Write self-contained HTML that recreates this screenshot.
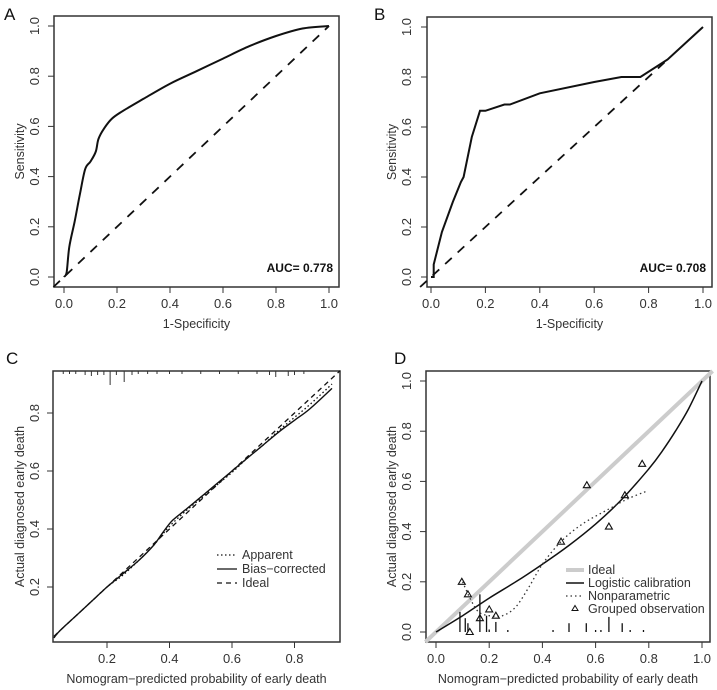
<!DOCTYPE html>
<html><head><meta charset="utf-8"><style>
body{margin:0;background:#fff}
svg{display:block;font-family:"Liberation Sans",Arial,sans-serif}
</style></head><body>
<svg id="s" width="717" height="690" xmlns="http://www.w3.org/2000/svg"></svg>
<script>
// Panel A ROC
const rocAx=[0,0.01,0.02,0.04,0.06,0.08,0.1,0.12,0.13,0.15,0.18,0.22,0.3,0.4,0.5,0.6,0.7,0.8,0.9,1];
const rocAy=[0,0.02,0.12,0.22,0.33,0.43,0.46,0.5,0.55,0.59,0.63,0.66,0.71,0.77,0.82,0.87,0.92,0.96,0.99,1];
// Panel B ROC
const rocBx=[0,0.01,0.01,0.04,0.08,0.11,0.12,0.15,0.18,0.2,0.27,0.29,0.4,0.6,0.7,0.77,0.87,1];
const rocBy=[0,0,0.05,0.18,0.3,0.38,0.4,0.56,0.665,0.665,0.69,0.69,0.735,0.78,0.8,0.8,0.87,1];
const aucLabels=["AUC= 0.778","AUC= 0.708"];
// Panel C calibration
const calX=[0.03,0.05,0.1,0.15,0.2,0.25,0.3,0.35,0.38,0.41,0.45,0.5,0.55,0.6,0.65,0.7,0.75,0.8,0.85,0.92];
const calBias=[0.025,0.05,0.1,0.15,0.2,0.245,0.29,0.345,0.39,0.43,0.465,0.51,0.555,0.6,0.645,0.69,0.735,0.775,0.815,0.885];
const calApp=[0.025,0.05,0.1,0.15,0.2,0.24,0.29,0.345,0.385,0.42,0.46,0.505,0.55,0.595,0.645,0.69,0.74,0.785,0.83,0.9];
const rugTopX=[0.06,0.08,0.1,0.13,0.15,0.17,0.19,0.21,0.23,0.255,0.28,0.3,0.33,0.36,0.4,0.44,0.5,0.56,0.62,0.68,0.72,0.74,0.78,0.8,0.83];
const rugTopLen=[3,3,3,4,5,4,4,14,4,11,4,3,3,3,3,3,3,3,3,3,4,6,5,4,3];
// Panel D
const logX=[0,0.1,0.2,0.3,0.4,0.5,0.6,0.7,0.8,0.85,0.9,0.95,1];
const logY=[0,0.065,0.135,0.2,0.27,0.345,0.43,0.53,0.65,0.72,0.8,0.89,1];
const npX=[0.1,0.13,0.16,0.2,0.25,0.3,0.35,0.4,0.47,0.55,0.65,0.72,0.79];
const npY=[0.2,0.13,0.08,0.065,0.065,0.1,0.18,0.27,0.36,0.43,0.49,0.53,0.56];
const grpX=[0.097,0.12,0.127,0.165,0.2,0.225,0.47,0.567,0.65,0.71,0.775];
const grpY=[0.2,0.15,0.0,0.055,0.09,0.065,0.36,0.585,0.42,0.545,0.67];
const spikeX=[0.09,0.11,0.12,0.165,0.19,0.2,0.225,0.27,0.44,0.5,0.565,0.6,0.62,0.65,0.7,0.73,0.78];
const spikeH=[0.08,0.055,0.035,0.15,0.065,0.01,0.04,0.008,0.008,0.035,0.035,0.008,0.008,0.06,0.035,0.008,0.008];
const ticks5=[0,0.2,0.4,0.6,0.8,1];
const ticksC=[0.2,0.4,0.6,0.8];

const NS="http://www.w3.org/2000/svg",S=document.getElementById('s');
function el(t,a,p){const e=document.createElementNS(NS,t);for(const k in a)e.setAttribute(k,a[k]);(p||S).appendChild(e);return e;}
function txt(x,y,s,a,p){const e=el('text',Object.assign({x:x,y:y,fill:'#333','font-size':13},a),p);e.textContent=s;return e;}
function panel(name,box,sx,sy,xt,yt,xlab,ylab,letter,lx){
  const g=el('g',{});
  
  
  const r=el('rect',{x:box[0],y:box[1],width:box[2]-box[0],height:box[3]-box[1],fill:'none',stroke:'#333','stroke-width':1.5},g);
  
  xt.forEach(v=>{const x=sx(v);el('line',{x1:x,x2:x,y1:box[3],y2:box[3]+6,stroke:'#333'},g);
    const t=txt(x,box[3]+21,v.toFixed(1),{'text-anchor':'middle'},g);
    });
  yt.forEach(v=>{const y=sy(v);el('line',{x1:box[0]-6,x2:box[0],y1:y,y2:y,stroke:'#333'},g);
    const t=txt(lx+5,y,v.toFixed(1),{'text-anchor':'middle',transform:`rotate(-90 ${lx+5} ${y})`},g);
    });
  const xl=txt((box[0]+box[2])/2,box[3]+41,xlab,{'text-anchor':'middle','font-size':12.5},g);
  
  const yc=(box[1]+box[3])/2,yx=lx-10;
  const yl=txt(yx,yc,ylab,{'text-anchor':'middle','font-size':12.5,transform:`rotate(-90 ${yx} ${yc})`},g);
  
  const L=txt(letter[1],letter[2],letter[0],{'font-size':17,fill:'#111'},g);
  
  return g;
}
function path(xs,ys,sx,sy,a,g,name,smooth){
  const P=xs.map((x,i)=>[sx(x),sy(ys[i])]);let d='M'+P[0][0].toFixed(1)+' '+P[0][1].toFixed(1);
  for(let i=1;i<P.length;i++){
    if(!smooth){d+='L'+P[i][0].toFixed(1)+' '+P[i][1].toFixed(1);continue;}
    const p0=P[Math.max(i-2,0)],p1=P[i-1],p2=P[i],p3=P[Math.min(i+1,P.length-1)];
    const c1=[p1[0]+(p2[0]-p0[0])/6,p1[1]+(p2[1]-p0[1])/6],c2=[p2[0]-(p3[0]-p1[0])/6,p2[1]-(p3[1]-p1[1])/6];
    d+=`C${c1[0].toFixed(1)} ${c1[1].toFixed(1)} ${c2[0].toFixed(1)} ${c2[1].toFixed(1)} ${p2[0].toFixed(1)} ${p2[1].toFixed(1)}`;}
  const p=el('path',Object.assign({d:d,fill:'none'},a),g);return p;}
function lin(d0,d1,r0,r1){return v=>r0+(v-d0)/(d1-d0)*(r1-r0);}

// A
{const sx=lin(0,1,64,329),sy=lin(0,1,277,26);
 const g=panel('roc-panel-a',[54,16,339,287],sx,sy,ticks5,ticks5,'1-Specificity','Sensitivity',['A',4,20],34);
 path([-0.04,1.0],[-0.04,1.0],sx,sy,{stroke:'#111','stroke-width':1.8,'stroke-dasharray':'9,8'},g,'reference-diagonal');
 path(rocAx,rocAy,sx,sy,{stroke:'#111','stroke-width':2},g,'roc-curve-a',true);
 const t=txt(333,272,aucLabels[0],{'text-anchor':'end','font-weight':'bold','font-size':12,fill:'#111'},g);
 }
// B
{const sx=lin(0,1,431,703),sy=lin(0,1,277,27);
 const g=panel('roc-panel-b',[427,17,712,287],sx,sy,ticks5,ticks5,'1-Specificity','Sensitivity',['B',374,20],406);
 path([-0.04,0.86],[-0.04,0.86],sx,sy,{stroke:'#111','stroke-width':1.8,'stroke-dasharray':'9,8'},g,'reference-diagonal');
 path(rocBx,rocBy,sx,sy,{stroke:'#111','stroke-width':2},g,'roc-curve-b');
 const t=txt(706,272,aucLabels[1],{'text-anchor':'end','font-weight':'bold','font-size':12,fill:'#111'},g);
 }
// C
{const sx=lin(0,1,44.5,357),sy=lin(0,1,645,355);
 const g=panel('calibration-panel-c',[53,371,340,642],sx,sy,ticksC,ticksC,'Nomogram\u2212predicted probability of early death','Actual diagnosed early death',['C',6,364],34);
 rugTopX.forEach((v,i)=>{const x=sx(v);const l=el('line',{x1:x,x2:x,y1:371,y2:371+rugTopLen[i],stroke:'#333'},g);
   });
 path([0.03,0.946],[0.03,0.946],sx,sy,{stroke:'#111','stroke-width':1.3,'stroke-dasharray':'5,4'},g,'ideal-line');
 path(calX,calApp,sx,sy,{stroke:'#111','stroke-width':1.3,'stroke-dasharray':'1.5,2.5'},g,'apparent-line',true);
 path(calX,calBias,sx,sy,{stroke:'#111','stroke-width':1.4},g,'bias-corrected-line',true);
 const lg=el('g',{},g);
 [['Apparent','1.5,2.5'],['Bias\u2212corrected',''],['Ideal','5,4']].forEach((e,i)=>{const y=559+i*14;
   const l=el('line',{x1:217,x2:237,y1:y-4,y2:y-4,stroke:'#111','stroke-width':1.3,'stroke-dasharray':e[1]},lg);
   
   const t=txt(242,y,e[0],{'font-size':12.5},lg);});}
// D
{const sx=lin(0,1,436,702),sy=lin(0,1,632,381);
 const g=panel('calibration-panel-d',[426,371,710,642],sx,sy,ticks5,ticks5,'Nomogram\u2212predicted probability of early death','Actual diagnosed early death',['D',394,364],406);
 path([-0.04,1.04],[-0.04,1.04],sx,sy,{stroke:'#ccc','stroke-width':4},g,'ideal-line');
 spikeX.forEach((v,i)=>{const x=sx(v);const l=el('line',{x1:x,x2:x,y1:sy(0),y2:sy(spikeH[i]),stroke:'#111','stroke-width':1.3},g);
   });
 path(logX,logY,sx,sy,{stroke:'#111','stroke-width':1.5},g,'logistic-calibration-line',true);
 path(npX,npY,sx,sy,{stroke:'#333','stroke-width':1.3,'stroke-dasharray':'1.5,3'},g,'nonparametric-line',true);
 grpX.forEach((v,i)=>{const x=sx(v),y=sy(grpY[i]);
   const p=el('path',{d:`M${x} ${y-3.5}L${x+3.5} ${y+2.5}L${x-3.5} ${y+2.5}Z`,fill:'none',stroke:'#111','stroke-width':1.1},g);
   });
 const lg=el('g',{},g);
 [['Ideal','#ccc',4,''],['Logistic calibration','#111',1.5,''],['Nonparametric','#333',1.3,'1.5,3'],['Grouped observation','',0,'']].forEach((e,i)=>{const y=574+i*13;
   if(e[1]){const l=el('line',{x1:566,x2:584,y1:y-4,y2:y-4,stroke:e[1],'stroke-width':e[2],'stroke-dasharray':e[3]},lg);
     }
   else{const p=el('path',{d:`M575 ${y-7.5}L578 ${y-2.5}L572 ${y-2.5}Z`,fill:'none',stroke:'#111'},lg);
     }
   const t=txt(588,y,e[0],{'font-size':12.5},lg);});}
</script>
</body></html>
